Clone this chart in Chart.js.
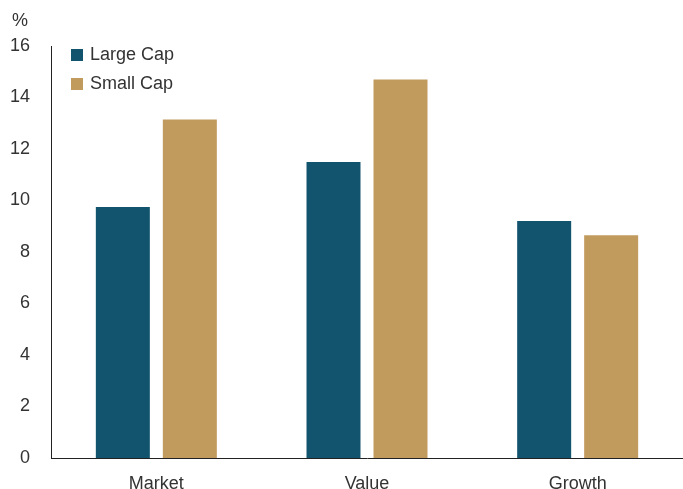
<!DOCTYPE html>
<html>
<head>
<meta charset="utf-8">
<script src="https://cdn.jsdelivr.net/npm/chart.js@4.4.1/dist/chart.umd.min.js"></script>
<style>
  html, body { margin: 0; padding: 0; background: #fff; }
  #wrap { width: 683px; height: 489px; position: relative; }
</style>
</head>
<body>
<div id="wrap"><canvas id="c"></canvas></div>
<script>
const categories = ['Market', 'Value', 'Growth'];
const largeCap = [9.75, 11.5, 9.2];
const smallCap = [13.15, 14.7, 8.65];
const seriesNames = ['Large Cap', 'Small Cap'];
const seriesColors = ['#12546d', '#c19a5e'];
const yTicks = [0, 2, 4, 6, 8, 10, 12, 14, 16];

const FONT = '"Liberation Sans", Arial, sans-serif';
const TEXT = '#333333';

// legend drawn inside the plot, top-left, plus the "%" unit label
const innerLegend = {
  id: 'innerLegend',
  afterDraw(chart) {
    const ctx = chart.ctx;
    ctx.save();
    ctx.font = '18px ' + FONT;
    ctx.fillStyle = TEXT;
    ctx.textBaseline = 'middle';
    ctx.textAlign = 'left';
    ctx.fillText('%', 12, 21);
    chart.data.datasets.forEach((ds, i) => {
      const y = 55 + i * 29;
      ctx.fillStyle = ds.backgroundColor;
      ctx.fillRect(71, y - 6, 12, 12);
      ctx.fillStyle = TEXT;
      ctx.fillText(ds.label, 90, y);
    });
    ctx.restore();
  }
};

new Chart(document.getElementById('c'), {
  type: 'bar',
  data: {
    labels: categories,
    datasets: [
      { label: seriesNames[0], data: largeCap, backgroundColor: seriesColors[0] },
      { label: seriesNames[1], data: smallCap, backgroundColor: seriesColors[1] }
    ]
  },
  options: {
    responsive: true,
    maintainAspectRatio: false,
    animation: false,
    categoryPercentage: 0.636,
    barPercentage: 0.806,
    layout: { padding: { top: 46, right: 0, left: 0, bottom: 0 } },
    plugins: {
      legend: { display: false },
      tooltip: { enabled: false }
    },
    scales: {
      x: {
        grid: { display: false },
        border: { display: true, color: '#222', width: 1 },
        ticks: { color: TEXT, font: { family: FONT, size: 18 }, padding: 7 },
        afterFit(s) { s.height = 31; }
      },
      y: {
        min: 0,
        max: 16,
        afterBuildTicks(s) { s.ticks = yTicks.map(v => ({ value: v })); },
        grid: { display: false },
        border: { display: true, color: '#222', width: 1 },
        ticks: { color: TEXT, font: { family: FONT, size: 18 }, padding: 13 },
        afterFit(s) { s.width = 51; }
      }
    }
  },
  plugins: [innerLegend]
});
</script>
</body>
</html>
